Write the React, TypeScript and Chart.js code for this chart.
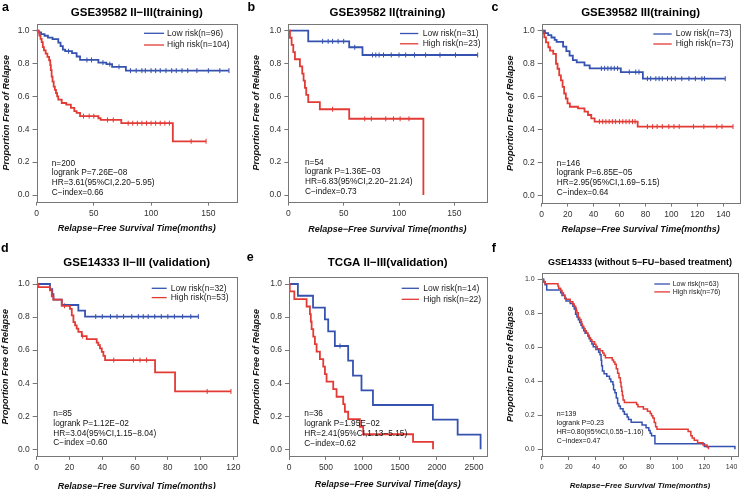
import React, { useEffect, useRef } from 'react';
import { Chart, registerables } from 'chart.js';

Chart.register(...registerables);

const FONT = '"Liberation Sans", Arial, Helvetica, sans-serif';
const LOW_COLOR = '#3552b0';
const HIGH_COLOR = '#e23a35';

// ---------- tick labels ----------
const yTicks = [0, 0.2, 0.4, 0.6, 0.8, 1.0];
const monthTicks150 = [0, 50, 100, 150];
const monthTicks140 = [0, 20, 40, 60, 80, 100, 120, 140];
const monthTicks120 = [0, 20, 40, 60, 80, 100, 120];
const dayTicks = [0, 500, 1000, 1500, 2000, 2500];

// ---------- panel a ----------
const aLowTime = [0, 2, 4, 7, 10, 14, 19, 21, 23, 25, 31, 35, 38, 54, 61, 66, 78, 168];
const aLowSurv = [1, 0.99, 0.979, 0.969, 0.958, 0.948, 0.927, 0.906, 0.885, 0.875, 0.864, 0.843, 0.822, 0.806, 0.796, 0.78, 0.757, 0.757];
const aLowCens = [28, 44, 48, 58, 64, 72, 82, 87, 92, 95, 100, 104, 108, 113, 118, 122, 127, 132, 140, 150, 160, 168];
const aHighTime = [0, 1.5, 2.5, 3.5, 4.5, 5.5, 6.5, 8, 9.5, 11, 12, 12.5, 13.2, 14, 15, 16, 17, 18, 19, 22, 26, 30, 33, 35, 38, 54, 56, 74, 119, 148];
const aHighSurv = [1, 0.99, 0.97, 0.95, 0.93, 0.9, 0.88, 0.86, 0.84, 0.82, 0.79, 0.76, 0.72, 0.69, 0.66, 0.64, 0.62, 0.6, 0.58, 0.56, 0.55, 0.53, 0.51, 0.5, 0.48, 0.467, 0.457, 0.437, 0.327, 0.327];
const aHighCens = [41, 46, 50, 62, 67, 80, 84, 88, 92, 96, 100, 104, 108, 112, 116, 135, 148];

// ---------- panel b ----------
const bLowTime = [0, 18, 55, 67, 171];
const bLowSurv = [1, 0.935, 0.899, 0.852, 0.852];
const bLowCens = [31, 36, 40, 45, 50, 60, 76, 79, 82, 86, 93, 100, 106, 114, 124, 137, 151, 171];
const bHighTime = [0, 1.5, 3, 4.5, 6, 10.5, 12.6, 13.8, 15, 16.2, 18, 28.5, 55, 122];
const bHighSurv = [1, 0.957, 0.913, 0.87, 0.826, 0.783, 0.739, 0.696, 0.652, 0.609, 0.565, 0.522, 0.464, 0];
const bHighCens = [40, 69, 75, 88, 95, 101, 109];

// ---------- panel c ----------
const cLowTime = [0, 2.5, 5, 7.5, 10, 11.5, 16.5, 19, 21.5, 24, 27, 33, 37, 61, 78, 141.5];
const cLowSurv = [1, 0.986, 0.973, 0.959, 0.945, 0.932, 0.904, 0.877, 0.849, 0.822, 0.808, 0.79, 0.772, 0.75, 0.71, 0.71];
const cLowCens = [46, 48.5, 51, 53.5, 56, 58.5, 67.5, 72.5, 75, 81.5, 84, 88, 90.5, 93, 97, 100, 103, 108, 113.5, 118.5, 123.5, 125.5, 141.5];
const cHighTime = [0, 1.3, 2, 3.3, 5.1, 6.4, 8.9, 11, 12.2, 13.5, 14.8, 16.1, 17.3, 18.6, 19.9, 21.7, 28, 33, 35.7, 38.2, 40.8, 74, 147.5];
const cHighSurv = [1, 0.984, 0.96, 0.93, 0.9, 0.88, 0.86, 0.8, 0.77, 0.73, 0.7, 0.66, 0.62, 0.59, 0.56, 0.54, 0.53, 0.51, 0.49, 0.47, 0.45, 0.42, 0.42];
const cHighCens = [44.5, 47, 49.5, 52, 54.5, 57, 60, 62.5, 65, 67.5, 70, 72, 81.5, 85.5, 89, 93, 98, 102, 106, 117, 125, 135, 139, 147.5];

// ---------- panel d ----------
const dLowTime = [0, 8.1, 9.5, 10.2, 15.3, 25.4, 29.5, 98.6];
const dLowSurv = [1, 0.969, 0.938, 0.906, 0.873, 0.839, 0.803, 0.803];
const dLowCens = [36, 40, 45, 49, 53, 58, 62, 65, 68, 72, 76, 80, 84, 89, 94, 98.6];
const dHighTime = [0, 1, 8.1, 9.2, 10.2, 15.3, 20.3, 21.4, 22.4, 23.4, 24.4, 25.4, 27.5, 30.5, 36.6, 37.6, 38.6, 39.7, 40.7, 41.7, 72.2, 84.4, 118.5];
const dHighSurv = [1, 0.981, 0.962, 0.925, 0.905, 0.868, 0.849, 0.81, 0.77, 0.75, 0.73, 0.71, 0.685, 0.667, 0.645, 0.63, 0.61, 0.59, 0.565, 0.54, 0.465, 0.35, 0.35];
const dHighCens = [17, 28, 47, 59, 63, 67, 104, 118.5];

// ---------- panel e ----------
const eLowTime = [0, 120, 325, 485, 530, 620, 800, 865, 980, 1135, 1945, 2280, 2590];
const eLowSurv = [1, 0.929, 0.857, 0.786, 0.714, 0.625, 0.536, 0.446, 0.357, 0.268, 0.179, 0.089, 0];
const eLowCens = [690];
const eHighTime = [0, 10, 72, 238, 283, 295, 306, 328, 350, 373, 418, 463, 486, 508, 598, 643, 733, 755, 800, 958, 1003, 1677, 1947];
const eHighSurv = [1, 0.955, 0.909, 0.864, 0.818, 0.773, 0.727, 0.682, 0.636, 0.591, 0.545, 0.5, 0.455, 0.409, 0.364, 0.318, 0.273, 0.227, 0.182, 0.136, 0.091, 0.045, 0];
const eHighCens: number[] = [];

// ---------- panel f ----------
const fLowTime = [0, 1.5, 2.5, 3.7, 14, 15, 17, 18, 21, 23, 24, 25, 26, 27, 28, 29, 30, 31, 32, 34, 35, 36, 37, 38, 40, 42, 43, 43.8, 44.2, 44.8, 46, 48, 50, 51, 52.5, 53, 54, 55, 56, 57, 58, 60, 61, 63, 64, 66, 74, 77, 79, 80, 81, 83.5, 120, 142.5];
const fLowSurv = [1, 0.984, 0.968, 0.937, 0.921, 0.905, 0.889, 0.873, 0.857, 0.841, 0.825, 0.794, 0.778, 0.762, 0.746, 0.73, 0.714, 0.698, 0.683, 0.667, 0.651, 0.635, 0.619, 0.603, 0.587, 0.571, 0.556, 0.524, 0.492, 0.46, 0.444, 0.429, 0.413, 0.397, 0.381, 0.35, 0.333, 0.302, 0.27, 0.254, 0.238, 0.222, 0.206, 0.19, 0.175, 0.159, 0.143, 0.127, 0.111, 0.095, 0.079, 0.032, 0.016, 0];
const fLowCens: number[] = [];
const fHighTime = [0, 1.2, 2.5, 12, 12.5, 14, 15, 16, 17, 17.5, 21, 23, 24, 25, 25.5, 26, 27, 28, 29, 29.5, 30, 31, 32, 33, 34, 35, 36, 37, 39, 40, 41, 43, 45, 46, 47, 52, 53, 54, 55, 56, 57, 58, 58.5, 59, 59.5, 60, 61, 70, 71, 75, 78, 80, 81, 82, 83, 84, 85, 108, 110, 111, 112.5, 115, 119, 122, 123];
const fHighSurv = [1, 0.987, 0.974, 0.961, 0.947, 0.934, 0.921, 0.908, 0.895, 0.882, 0.868, 0.855, 0.842, 0.829, 0.816, 0.803, 0.776, 0.763, 0.75, 0.737, 0.724, 0.711, 0.697, 0.684, 0.671, 0.658, 0.645, 0.632, 0.618, 0.605, 0.592, 0.579, 0.566, 0.553, 0.539, 0.526, 0.513, 0.5, 0.474, 0.447, 0.421, 0.395, 0.368, 0.342, 0.316, 0.29, 0.276, 0.263, 0.25, 0.237, 0.224, 0.211, 0.197, 0.184, 0.158, 0.132, 0.118, 0.105, 0.079, 0.066, 0.053, 0.039, 0.026, 0.013, 0];
const fHighCens: number[] = [];

// ---------- text ----------
const monthsTitle = 'Relapse\u2212Free Survival Time(months)';
const daysTitle = 'Relapse\u2212Free Survival Time(days)';
const yTitle = 'Proportion Free of Relapse';

type Group = { time: number[]; surv: number[]; cens: number[]; label: string; color: string };
type Layout = {
  left: number; top: number; w: number; h: number;
  yw: number; xh: number; padTop: number; padRight: number;
  letterX: number; letterY: number; letterSize: number;
  titleY: number; titleSize: number;
  legX1: number; legX2: number; legTextX: number; legY1: number; legY2: number; legSize: number;
  statX: number; statY: number[]; statSize: number;
  tickSize: number; xTitleSize: number; xTitlePad: number; yTitleSize: number; yTitlePad: number;
  lineW: number;
};
type Panel = {
  letter: string; title: string; low: Group; high: Group; stats: string[];
  xTicks: number[]; xMax: number; xTitle: string; layout: Layout;
};

const panels: Panel[] = [
  {
    letter: 'a', title: 'GSE39582 II\u2212III(training)',
    low: { time: aLowTime, surv: aLowSurv, cens: aLowCens, label: 'Low risk(n=96)', color: LOW_COLOR },
    high: { time: aHighTime, surv: aHighSurv, cens: aHighCens, label: 'High risk(n=104)', color: HIGH_COLOR },
    stats: ['n=200', 'logrank P=7.26E\u221208', 'HR=3.61(95%CI,2.20\u22125.95)', 'C\u2212index=0.66'],
    xTicks: monthTicks150, xMax: 175, xTitle: monthsTitle,
    layout: {
      left: 0, top: 0, w: 245, h: 240, yw: 36.5, xh: 38.4, padTop: 24.1, padRight: 8,
      letterX: 2, letterY: 11, letterSize: 12.5, titleY: 13, titleSize: 11.5,
      legX1: 144, legX2: 164, legTextX: 167, legY1: 33.3, legY2: 45, legSize: 8.5,
      statX: 51.7, statY: [163.3, 172.5, 182.7, 192.3], statSize: 8.3,
      tickSize: 8.5, xTitleSize: 9, xTitlePad: 5.6, yTitleSize: 9, yTitlePad: 1.6, lineW: 1.8,
    },
  },
  {
    letter: 'b', title: 'GSE39582 II(training)',
    low: { time: bLowTime, surv: bLowSurv, cens: bLowCens, label: 'Low risk(n=31)', color: LOW_COLOR },
    high: { time: bHighTime, surv: bHighSurv, cens: bHighCens, label: 'High risk(n=23)', color: HIGH_COLOR },
    stats: ['n=54', 'logrank P=1.36E\u221203', 'HR=6.83(95%CI,2.20\u221221.24)', 'C\u2212index=0.73'],
    xTicks: monthTicks150, xMax: 179, xTitle: monthsTitle,
    layout: {
      left: 245, top: 0, w: 245, h: 240, yw: 43.3, xh: 38.4, padTop: 24.1, padRight: 3,
      letterX: 2.5, letterY: 11, letterSize: 12.5, titleY: 13, titleSize: 11.5,
      legX1: 155, legX2: 173.3, legTextX: 177.7, legY1: 33.5, legY2: 43.8, legSize: 8.5,
      statX: 60, statY: [162.7, 171.7, 181.7, 191.7], statSize: 8.3,
      tickSize: 8.5, xTitleSize: 9, xTitlePad: 5.3, yTitleSize: 9, yTitlePad: 6.3, lineW: 1.8,
    },
  },
  {
    letter: 'c', title: 'GSE39582 III(training)',
    low: { time: cLowTime, surv: cLowSurv, cens: cLowCens, label: 'Low risk(n=73)', color: LOW_COLOR },
    high: { time: cHighTime, surv: cHighSurv, cens: cHighCens, label: 'High risk(n=73)', color: HIGH_COLOR },
    stats: ['n=146', 'logrank P=6.85E\u221205', 'HR=2.95(95%CI,1.69\u22125.15)', 'C\u2212index=0.64'],
    xTicks: monthTicks140, xMax: 152.5, xTitle: monthsTitle,
    layout: {
      left: 490, top: 0, w: 253, h: 240, yw: 51.7, xh: 37.4, padTop: 24.1, padRight: 2,
      letterX: 1.5, letterY: 11, letterSize: 12.5, titleY: 13, titleSize: 11.5,
      legX1: 163.3, legX2: 181.7, legTextX: 185.7, legY1: 34, legY2: 44, legSize: 8.5,
      statX: 66.7, statY: [163.3, 172.7, 182.7, 192.3], statSize: 8.3,
      tickSize: 8.5, xTitleSize: 9, xTitlePad: 5.3, yTitleSize: 9, yTitlePad: 15.3, lineW: 1.8,
    },
  },
  {
    letter: 'd', title: 'GSE14333 II\u2212III (validation)',
    low: { time: dLowTime, surv: dLowSurv, cens: dLowCens, label: 'Low risk(n=32)', color: LOW_COLOR },
    high: { time: dHighTime, surv: dHighSurv, cens: dHighCens, label: 'High risk(n=53)', color: HIGH_COLOR },
    stats: ['n=85', 'logrank P=1.12E\u221202', 'HR=3.04(95%CI,1.15\u22128.04)', 'C\u2212index =0.60'],
    xTicks: monthTicks120, xMax: 122, xTitle: monthsTitle,
    layout: {
      left: 0, top: 240, w: 245, h: 255, yw: 36.7, xh: 39.1, padTop: 37.4, padRight: 8.3,
      letterX: 1, letterY: 11.5, letterSize: 12.5, titleY: 23.3, titleSize: 11.5,
      legX1: 151.7, legX2: 166.7, legTextX: 170.7, legY1: 48.3, legY2: 57.6, legSize: 8.5,
      statX: 53.3, statY: [173.3, 183.3, 193.3, 202.3], statSize: 8.3,
      tickSize: 8.5, xTitleSize: 9, xTitlePad: 3.1, yTitleSize: 9, yTitlePad: 0, lineW: 1.8,
    },
  },
  {
    letter: 'e', title: 'TCGA II\u2212III(validation)',
    low: { time: eLowTime, surv: eLowSurv, cens: eLowCens, label: 'Low risk(n=14)', color: LOW_COLOR },
    high: { time: eHighTime, surv: eHighSurv, cens: eHighCens, label: 'High risk(n=22)', color: HIGH_COLOR },
    stats: ['n=36', 'logrank P=1.95E\u221202', 'HR=2.41(95%CI,1.13\u22125.15)', 'C\u2212index=0.62'],
    xTicks: dayTicks, xMax: 2670, xTitle: daysTitle,
    layout: {
      left: 245, top: 240, w: 245, h: 255, yw: 44, xh: 39.1, padTop: 37.4, padRight: 3,
      letterX: 1.7, letterY: 20.5, letterSize: 12.5, titleY: 22.7, titleSize: 11.5,
      legX1: 156.7, legX2: 174, legTextX: 178.3, legY1: 48.3, legY2: 59.3, legSize: 8.5,
      statX: 59.3, statY: [173.3, 183.3, 194, 203.5], statSize: 8.3,
      tickSize: 8.5, xTitleSize: 9, xTitlePad: 4.6, yTitleSize: 9, yTitlePad: 6.3, lineW: 1.8,
    },
  },
  {
    letter: 'f', title: 'GSE14333 (without 5\u2212FU\u2212based treatment)',
    low: { time: fLowTime, surv: fLowSurv, cens: fLowCens, label: 'Low risk(n=63)', color: LOW_COLOR },
    high: { time: fHighTime, surv: fHighSurv, cens: fHighCens, label: 'High risk(n=76)', color: HIGH_COLOR },
    stats: ['n=139', 'logrank P=0.23', 'HR=0.80(95%CI,0.55\u22121.16)', 'C\u2212index=0.47'],
    xTicks: monthTicks140, xMax: 145, xTitle: monthsTitle,
    layout: {
      left: 490, top: 240, w: 253, h: 255, yw: 51.7, xh: 38.9, padTop: 32.5, padRight: 4.7,
      letterX: 1.7, letterY: 11.5, letterSize: 12.5, titleY: 22.3, titleSize: 9,
      legX1: 164.3, legX2: 180, legTextX: 182.7, legY1: 44, legY2: 51.9, legSize: 7,
      statX: 66.7, statY: [174, 182.7, 191.7, 201], statSize: 7,
      tickSize: 7, xTitleSize: 8, xTitlePad: 4.2, yTitleSize: 9, yTitlePad: 15.3, lineW: 1.5,
    },
  },
];

function survAt(g: Group, t: number): number {
  let s = g.surv[0];
  for (let i = 0; i < g.time.length; i++) {
    if (g.time[i] <= t) s = g.surv[i];
  }
  return s;
}

function curveDataset(g: Group, lw: number) {
  return {
    label: g.label,
    data: g.time.map((t, i) => ({ x: t, y: g.surv[i] })),
    showLine: true,
    stepped: true,
    borderColor: g.color,
    backgroundColor: g.color,
    borderWidth: lw,
    pointRadius: 0,
    pointHoverRadius: 0,
    fill: false,
  };
}

function censorDataset(g: Group) {
  return {
    label: g.label + ' censored',
    data: g.cens.map((t) => ({ x: t, y: survAt(g, t) })),
    showLine: false,
    pointStyle: 'line',
    pointRotation: 90,
    pointRadius: 2.5,
    pointHoverRadius: 2.5,
    pointBorderWidth: 1,
    pointBorderColor: g.color,
    pointBackgroundColor: g.color,
    borderColor: g.color,
  };
}

function makeDecor(p: Panel) {
  const L = p.layout;
  return {
    id: 'decor',
    afterDraw(chart: any) {
      const { ctx, chartArea: ca } = chart;
      ctx.save();
      // frame
      ctx.strokeStyle = '#777';
      ctx.lineWidth = 1;
      const x0 = Math.round(ca.left) + 0.5;
      const y0 = Math.round(ca.top) + 0.5;
      ctx.strokeRect(x0, y0, Math.round(ca.right) - Math.round(ca.left), Math.round(ca.bottom) - Math.round(ca.top));
      // letter
      ctx.fillStyle = '#000';
      ctx.textAlign = 'left';
      ctx.textBaseline = 'alphabetic';
      ctx.font = `bold ${L.letterSize}px ${FONT}`;
      ctx.fillText(p.letter, L.letterX, L.letterY);
      // title
      ctx.textAlign = 'center';
      ctx.textBaseline = 'middle';
      ctx.font = `bold ${L.titleSize}px ${FONT}`;
      ctx.fillText(p.title, (ca.left + ca.right) / 2, L.titleY);
      // legend
      ctx.textAlign = 'left';
      ctx.font = `${L.legSize}px ${FONT}`;
      const entries: [Group, number][] = [[p.low, L.legY1], [p.high, L.legY2]];
      for (const [g, y] of entries) {
        ctx.strokeStyle = g.color;
        ctx.lineWidth = 1.3;
        ctx.beginPath();
        ctx.moveTo(L.legX1, y);
        ctx.lineTo(L.legX2, y);
        ctx.stroke();
        ctx.fillStyle = '#222';
        ctx.fillText(g.label, L.legTextX, y);
      }
      // stats
      ctx.fillStyle = '#111';
      ctx.font = `${L.statSize}px ${FONT}`;
      p.stats.forEach((s, i) => ctx.fillText(s, L.statX, L.statY[i]));
      ctx.restore();
    },
  };
}

function PanelChart({ p }: { p: Panel }) {
  const ref = useRef<HTMLCanvasElement | null>(null);
  const L = p.layout;
  useEffect(() => {
    if (!ref.current) return;
    const chart = new Chart(ref.current, {
      type: 'scatter',
      data: {
        datasets: [
          curveDataset(p.high, L.lineW),
          curveDataset(p.low, L.lineW),
          censorDataset(p.high),
          censorDataset(p.low),
        ] as any,
      },
      options: {
        animation: false,
        responsive: false,
        devicePixelRatio: 1,
        events: [],
        layout: { padding: { top: L.padTop, right: L.padRight, left: 0, bottom: 0 } },
        plugins: { legend: { display: false }, tooltip: { enabled: false }, title: { display: false } },
        scales: {
          x: {
            type: 'linear',
            position: 'bottom',
            min: 0,
            max: p.xMax,
            afterBuildTicks: (s: any) => { s.ticks = p.xTicks.map((v) => ({ value: v })); },
            afterFit: (s: any) => { s.height = L.xh; },
            ticks: {
              autoSkip: false, maxRotation: 0, minRotation: 0, padding: 3, color: '#333',
              font: { size: L.tickSize, family: FONT },
              callback: (v: any) => String(v),
            },
            grid: { display: true, drawOnChartArea: false, drawTicks: true, tickLength: 4, color: '#777', lineWidth: 1 },
            border: { display: false },
            title: {
              display: true, text: p.xTitle, color: '#111',
              font: { size: L.xTitleSize, weight: 'bold', style: 'italic', family: FONT },
              padding: { top: 0, bottom: L.xTitlePad },
            },
          },
          y: {
            type: 'linear',
            position: 'left',
            min: -0.04,
            max: 1.04,
            afterBuildTicks: (s: any) => { s.ticks = yTicks.map((v) => ({ value: v })); },
            afterFit: (s: any) => { s.width = L.yw; },
            ticks: {
              autoSkip: false, padding: 3, color: '#333',
              font: { size: L.tickSize, family: FONT },
              callback: (v: any) => Number(v).toFixed(1),
            },
            grid: { display: true, drawOnChartArea: false, drawTicks: true, tickLength: 4, color: '#777', lineWidth: 1 },
            border: { display: false },
            title: {
              display: true, text: yTitle, color: '#111',
              font: { size: L.yTitleSize, weight: 'bold', style: 'italic', family: FONT },
              padding: { top: L.yTitlePad, bottom: 0 },
            },
          },
        },
      } as any,
      plugins: [makeDecor(p)],
    });
    return () => chart.destroy();
  }, [p]);
  return (
    <canvas
      ref={ref}
      width={L.w}
      height={L.h}
      style={{ position: 'absolute', left: L.left, top: L.top, width: L.w, height: L.h }}
    />
  );
}

export default function App() {
  Chart.defaults.font.family = FONT;
  return (
    <div style={{ position: 'absolute', left: 0, top: 0, width: 743, height: 489, overflow: 'hidden', background: '#fff' }}>
      {panels.map((p) => (
        <PanelChart key={p.letter} p={p} />
      ))}
    </div>
  );
}
